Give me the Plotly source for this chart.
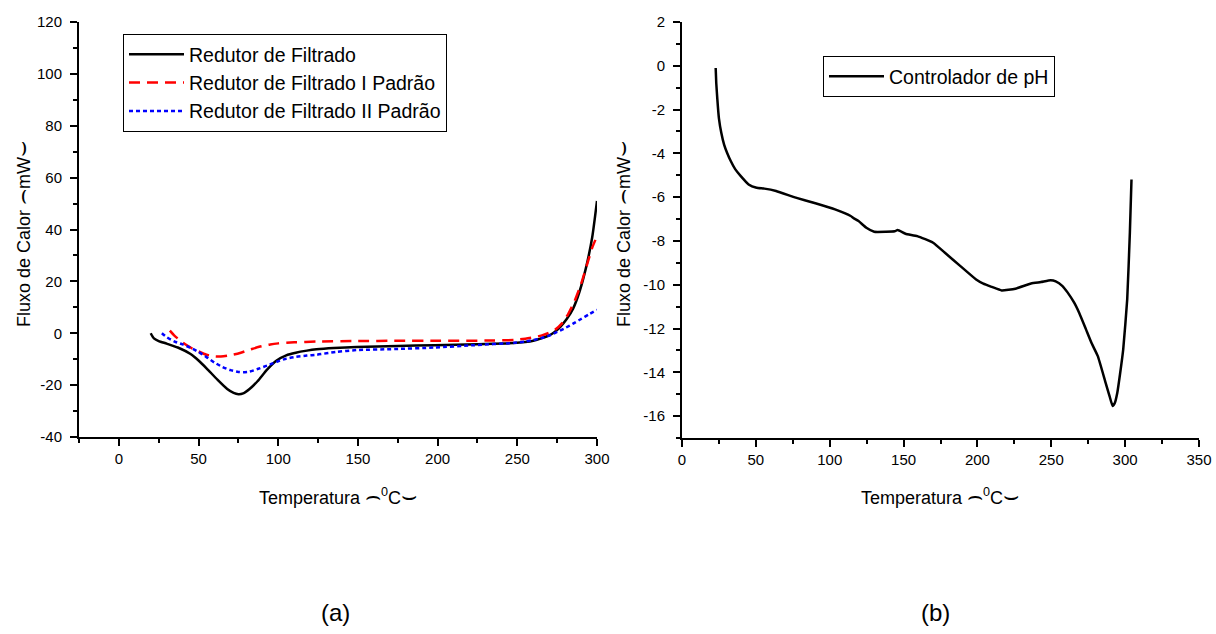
import plotly.graph_objects as go

# ---------------- data (a) ----------------
rf_T = [20, 22, 25, 30, 37, 45, 50, 55, 62, 68, 72, 75, 78, 82, 87, 93, 99, 105, 111, 118, 124, 135, 149, 175, 198, 225, 248, 255, 260, 265, 270, 273, 277, 281, 285, 289, 293, 297, 300]
rf_Y = [0, -2, -3, -4, -5.5, -8, -10.5, -13.5, -18, -21.5, -23, -23.5, -23.2, -21.5, -18.5, -14, -10.5, -8.5, -7.5, -6.7, -6.2, -5.7, -5.3, -4.9, -4.6, -4.2, -3.8, -3.4, -2.9, -2.0, -0.8, 0.3, 2.5, 5.5, 9.5, 16, 25, 37, 51]

rf1_T = [32, 35, 40, 45, 50, 55, 60, 64, 68, 72, 76, 82, 88, 95, 100, 110, 124, 150, 175, 200, 235, 248, 255, 260, 265, 270, 274, 278, 282, 286, 290, 294, 297, 299]
rf1_Y = [1, -1, -3.5, -5.5, -7, -8.3, -8.9, -9, -8.7, -8.2, -7.6, -6.4, -5.2, -4.3, -3.9, -3.5, -3.2, -3.0, -2.9, -2.9, -2.8, -2.6, -2.1, -1.6, -0.9, 0.2, 1.5, 3.8, 7.5, 12.5, 19, 27, 33, 36]

rf2_T = [27, 30, 35, 40, 45, 50, 55, 60, 65, 70, 75, 78, 82, 87, 93, 99, 105, 111, 118, 124, 136, 149, 173, 198, 223, 248, 255, 260, 265, 270, 275, 280, 285, 290, 295, 300]
rf2_Y = [0, -1.5, -3.2, -4.3, -5.6, -7.2, -9.2, -11.3, -13, -14.2, -14.9, -15, -14.8, -13.8, -12.5, -11, -9.8, -9.1, -8.6, -8.3, -7.2, -6.5, -6.1, -5.5, -4.6, -3.7, -3.2, -2.6, -1.9, -0.9, 0.5, 2, 3.7, 5.5, 7.3, 9]

# ---------------- data (b) ----------------
ph_T = [22.8, 23.2, 23.9, 25, 26.6, 28.5, 30.5, 33, 36, 39.8, 45.1, 50.5, 55.8, 63.7, 77, 90.3, 103.6, 114.2, 116, 119.5, 124.8, 130.1, 138, 144, 146, 151.3, 159.3, 170, 178, 188.5, 199.1, 204, 209.8, 216.4, 225.7, 236.3, 243, 249.6, 253, 257.6, 261, 265.5, 269, 273.5, 277.5, 281.5, 286.8, 289.5, 291.5, 293, 294.7, 296.5, 298.7, 301.4, 303.2, 304.3]
ph_Y = [-0.1, -0.8, -1.5, -2.4, -3.06, -3.6, -3.97, -4.35, -4.72, -5.04, -5.42, -5.57, -5.61, -5.72, -6.02, -6.28, -6.56, -6.86, -6.95, -7.09, -7.4, -7.58, -7.58, -7.56, -7.5, -7.67, -7.78, -8.08, -8.54, -9.15, -9.76, -9.95, -10.1, -10.26, -10.18, -9.94, -9.88, -9.8, -9.85, -10.06, -10.35, -10.82, -11.3, -12.04, -12.7, -13.26, -14.48, -15.1, -15.54, -15.4, -14.93, -14.1, -12.95, -10.67, -7.62, -5.19]

# ---------------- ticks ----------------
a_xticks = [0, 50, 100, 150, 200, 250, 300]
a_xlabels = ["0", "50", "100", "150", "200", "250", "300"]
a_yticks = [-40, -20, 0, 20, 40, 60, 80, 100, 120]
a_ylabels = ["-40", "-20", "0", "20", "40", "60", "80", "100", "120"]
b_xticks = [0, 50, 100, 150, 200, 250, 300, 350]
b_xlabels = ["0", "50", "100", "150", "200", "250", "300", "350"]
b_yticks = [-16, -14, -12, -10, -8, -6, -4, -2, 0, 2]
b_ylabels = ["-16", "-14", "-12", "-10", "-8", "-6", "-4", "-2", "0", "2"]

names_a = ["Redutor de Filtrado", "Redutor de Filtrado I Padrão", "Redutor de Filtrado II Padrão"]
name_b = "Controlador de pH"
ARC_O = '<span style="font-size:25px">⌢</span>'
ARC_C = '<span style="font-size:25px">⌣</span>'
x_title = "Temperatura " + ARC_O + "<sup>0</sup>C" + ARC_C
y_title = "Fluxo de Calor " + ARC_O + "mW" + ARC_C

W, H = 1216, 634
FONT = "Liberation Sans, Arial, sans-serif"

fig = go.Figure()
fig.add_trace(go.Scatter(x=rf_T, y=rf_Y, mode="lines", name=names_a[0],
                         line=dict(color="black", width=2.5, shape="spline", smoothing=0.6),
                         xaxis="x", yaxis="y", legend="legend"))
fig.add_trace(go.Scatter(x=rf1_T, y=rf1_Y, mode="lines", name=names_a[1],
                         line=dict(color="#ff0000", width=2.5, dash="11px,7px", shape="spline", smoothing=0.6),
                         xaxis="x", yaxis="y", legend="legend"))
fig.add_trace(go.Scatter(x=rf2_T, y=rf2_Y, mode="lines", name=names_a[2],
                         line=dict(color="#0000ff", width=2.5, dash="4px,3px", shape="spline", smoothing=0.6),
                         xaxis="x", yaxis="y", legend="legend"))
fig.add_trace(go.Scatter(x=ph_T, y=ph_Y, mode="lines", name=name_b,
                         line=dict(color="black", width=2.5, shape="spline", smoothing=0.4),
                         xaxis="x2", yaxis="y2", legend="legend2"))

def px_x(p):
    return p / W

def px_y(p):
    return 1 - p / H

common = dict(showline=True, linecolor="black", linewidth=2, showgrid=False, zeroline=False,
              automargin=False,
              ticks="outside", ticklen=7, tickwidth=1.5, tickcolor="black",
              tickfont=dict(family=FONT, size=15, color="black"))

fig.update_layout(
    template="none",
    width=W, height=H, margin=dict(l=0, r=0, t=0, b=0, autoexpand=False),
    paper_bgcolor="white", plot_bgcolor="white",
    font=dict(family=FONT, color="black"),
    xaxis=dict(domain=[px_x(79), px_x(597)], range=[-25, 300], anchor="y",
               tickvals=a_xticks, ticktext=a_xlabels,
               minor=dict(dtick=25, tick0=0, ticks="outside", ticklen=4, tickwidth=1.5, tickcolor="black"),
               **common),
    yaxis=dict(domain=[px_y(437), px_y(22)], range=[-40, 120], anchor="x",
               tickvals=a_yticks, ticktext=a_ylabels, ticklabelstandoff=5,
               minor=dict(dtick=10, tick0=0, ticks="outside", ticklen=4, tickwidth=1.5, tickcolor="black"),
               **common),
    xaxis2=dict(domain=[px_x(682), px_x(1199)], range=[0, 350], anchor="y2",
                tickvals=b_xticks, ticktext=b_xlabels,
                minor=dict(dtick=25, tick0=0, ticks="outside", ticklen=4, tickwidth=1.5, tickcolor="black"),
                **common),
    yaxis2=dict(domain=[px_y(438), px_y(22)], range=[-17, 2], anchor="x2",
                tickvals=b_yticks, ticktext=b_ylabels, ticklabelstandoff=5,
                minor=dict(dtick=1, tick0=0, ticks="outside", ticklen=4, tickwidth=1.5, tickcolor="black"),
                **common),
    legend=dict(x=px_x(123), y=px_y(34), xanchor="left", yanchor="top",
                bordercolor="black", borderwidth=1, bgcolor="white",
                font=dict(family=FONT, size=19.5, color="black"),
                itemwidth=55, tracegroupgap=0),
    legend2=dict(x=px_x(823), y=px_y(56), xanchor="left", yanchor="top",
                 bordercolor="black", borderwidth=1, bgcolor="white",
                 font=dict(family=FONT, size=19.5, color="black"),
                 itemwidth=55),
    showlegend=True,
)

ann_font = dict(family=FONT, size=18, color="black")
fig.add_annotation(text=x_title, x=px_x(338), y=px_y(495), xref="paper", yref="paper",
                   showarrow=False, font=ann_font, xanchor="center", yanchor="middle")
fig.add_annotation(text=x_title, x=px_x(940), y=px_y(495), xref="paper", yref="paper",
                   showarrow=False, font=ann_font, xanchor="center", yanchor="middle")
fig.add_annotation(text=y_title, x=px_x(21), y=px_y(234), xref="paper", yref="paper",
                   showarrow=False, font=ann_font, textangle=-90, xanchor="center", yanchor="middle")
fig.add_annotation(text=y_title, x=px_x(621), y=px_y(234), xref="paper", yref="paper",
                   showarrow=False, font=ann_font, textangle=-90, xanchor="center", yanchor="middle")
fig.add_annotation(text="(a)", x=px_x(335), y=px_y(612), xref="paper", yref="paper",
                   showarrow=False, font=dict(family=FONT, size=24, color="black"),
                   xanchor="center", yanchor="middle")
fig.add_annotation(text="(b)", x=px_x(935), y=px_y(612), xref="paper", yref="paper",
                   showarrow=False, font=dict(family=FONT, size=24, color="black"),
                   xanchor="center", yanchor="middle")

fig.write_html("out.html")
